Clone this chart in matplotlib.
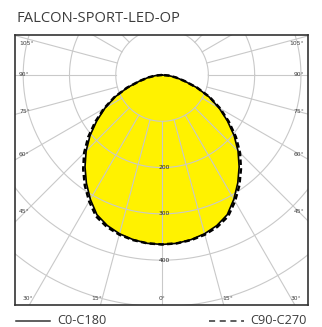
import numpy as np
import matplotlib
matplotlib.use("Agg")
import matplotlib.pyplot as plt

# luminous intensity (cd) per gamma angle, symmetric about 0
gamma = [0, 5, 10, 15, 20, 25, 30, 35, 40, 45, 50, 55, 60, 65, 70, 75, 80, 85, 90]
i_c0 = [366, 365, 361, 355, 346, 333, 310, 285, 259, 232, 203, 172, 142, 112, 80, 50, 30, 14, 0]
i_c90 = [366, 365, 362, 357, 349, 337, 315, 291, 265, 238, 208, 176, 145, 114, 81, 50, 30, 14, 0]
rings = [100, 200, 300, 400, 500, 600]
ring_labels = [200, 300, 400]
spoke_step = 15

title = "FALCON-SPORT-LED-OP"
series_names = ["C0-C180", "C90-C270"]

GRID = "#c9c9c9"
TXT = "#3c3c3c"


def curve(vals):
    g = np.radians(np.concatenate([-np.array(gamma[::-1]), np.array(gamma[1:])]))
    r = np.concatenate([np.array(vals[::-1]), np.array(vals[1:])])
    return r * np.sin(g), -r * np.cos(g)


fig = plt.figure(figsize=(3.22, 3.27), dpi=100)
ax = fig.add_axes([15 / 322, 1 - 305 / 327, 293 / 322, 270 / 327])
xmin, xmax = -317.5, 315.0
ymin, ymax = -496.8, 86.4
ax.set_xlim(xmin, xmax)
ax.set_ylim(ymin, ymax)
ax.set_aspect("equal")
ax.set_xticks([])
ax.set_yticks([])
for s in ax.spines.values():
    s.set_color("#333333")
    s.set_linewidth(1.2)

# yellow body
x0, y0 = curve(i_c0)
ax.fill(x0, y0, color="#fff200", zorder=1, lw=0)

# polar grid
t = np.linspace(0, 2 * np.pi, 400)
for r in rings:
    ax.plot(r * np.cos(t), r * np.sin(t), color=GRID, lw=0.8, zorder=2)
for a in range(0, 360, spoke_step):
    ar = np.radians(a)
    ax.plot([100 * np.sin(ar), 900 * np.sin(ar)], [-100 * np.cos(ar), -900 * np.cos(ar)],
            color=GRID, lw=0.8, zorder=2)

# curves
ax.plot(x0, y0, color="black", lw=1.2, zorder=3)
x1, y1 = curve(i_c90)
ax.plot(x1, y1, color="black", lw=1.8, ls=(0, (2.2, 1.3)), zorder=4)

# ring values
for r in ring_labels:
    ax.text(4, -r, str(r), fontsize=4.3, color="#222222", ha="center", va="center", zorder=5)

# gamma labels along the frame
px = 0.4632
side_in = 4 / px
edge_x = 10 / px
top_lim = ymax - 9 / px
bot_lim = ymin + 7 / px
for a in [105, 90, 75, 60, 45, 30, 15, 0]:
    ar = np.radians(a)
    for sgn in ([-1, 1] if a else [1]):
        dx, dy = sgn * np.sin(ar), -np.cos(ar)
        if a <= 30:
            ty = bot_lim / dy
            x = ty * dx
            ha = "center" if a == 0 else ("right" if sgn < 0 else "left")
            ax.text(x, bot_lim, f"{a}°", fontsize=4.3, color=TXT, ha=ha, va="center", zorder=5)
        else:
            tx = (-xmin - edge_x) / abs(dx)
            y = min(max(tx * dy, bot_lim), top_lim)
            if sgn < 0:
                ax.text(xmin + side_in, y, f"{a}°", fontsize=4.3, color=TXT, ha="left", va="center", zorder=5)
            else:
                ax.text(xmax - side_in, y, f"{a}°", fontsize=4.3, color=TXT, ha="right", va="center", zorder=5)

fig.text(16 / 322, 1 - 19 / 327, title, fontsize=10.6, color=TXT, ha="left", va="center",
         family="Open Sans")

# legend
ly = 1 - 321 / 327
fig.add_artist(plt.Line2D([16 / 322, 50 / 322], [ly, ly], color="#333333", lw=1.1))
fig.text(57 / 322, ly, series_names[0], fontsize=9.2, color=TXT, ha="left", va="center", family="Open Sans")
fig.add_artist(plt.Line2D([209 / 322, 244 / 322], [ly, ly], color="#333333", lw=1.1, ls=(0, (4, 3))))
fig.text(307 / 322, ly, series_names[1], fontsize=9.2, color=TXT, ha="right", va="center", family="Open Sans")

fig.savefig("out.png", dpi=100)
